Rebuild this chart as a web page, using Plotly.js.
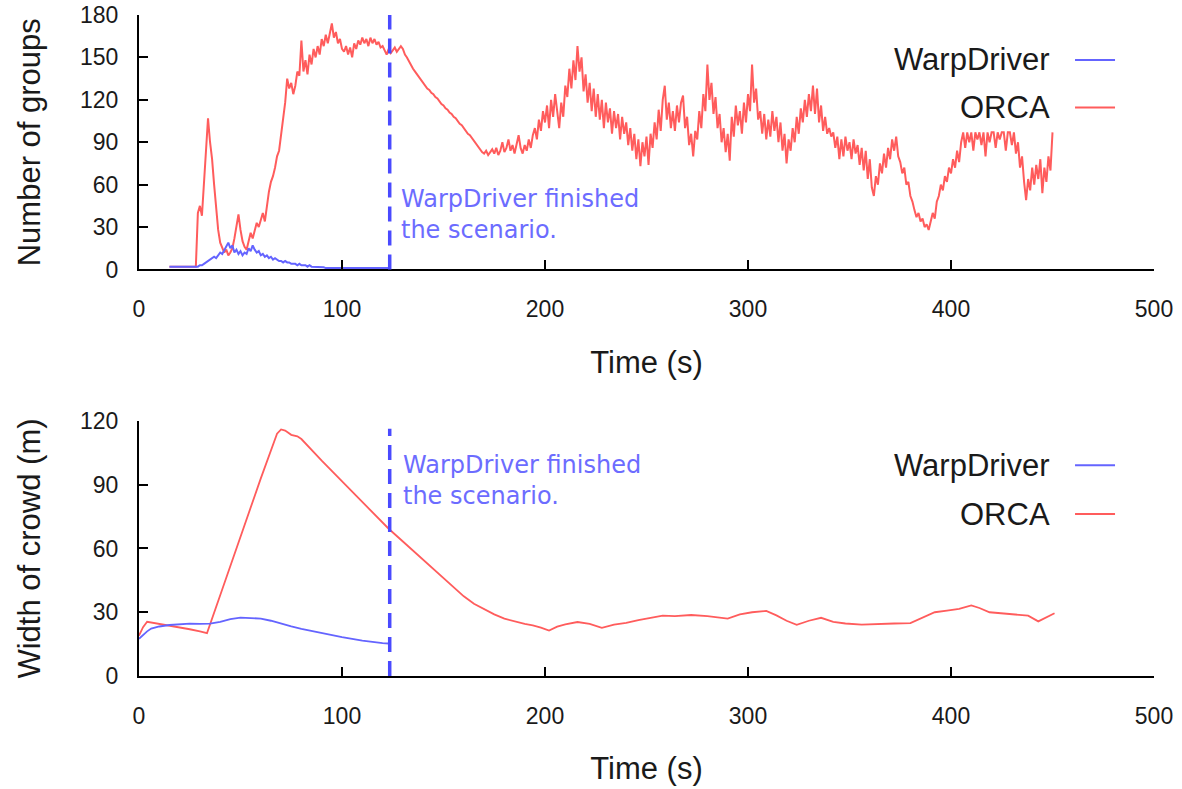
<!DOCTYPE html>
<html>
<head>
<meta charset="utf-8">
<script src="https://cdn.plot.ly/plotly-3.0.1.min.js"></script>
<style>
  html, body { margin: 0; padding: 0; background: #fff; }
  #chart { width: 1182px; height: 789px; }
</style>
</head>
<body>
<div id="chart"></div>
<script>
// ---------- DATA ----------
// Top panel: number of groups, sampled every 1 s starting at t = 15 s
const topStartTime = 15;
const orcaGroups = [
  2,2,2,2,2,
  2,2,2,2,2,2,2,2,2,40,
  45,38,60,80,107,90,78,60,42,28,
  19,15,12,14,10,12,15,22,30,39,
  28,20,16,14,20,26,22,28,33,30,
  36,40,34,46,55,62,66,72,80,84,
  96,106,118,135,128,132,124,130,140,137,
  162,140,148,138,152,145,156,150,158,152,
  163,158,166,160,168,174,164,168,160,163,
  156,154,158,152,157,150,160,156,162,159,
  164,160,163,158,164,160,163,159,161,157,
  158,155,152,156,153,155,157,154,156,158,
  156,152,150,147,145,142,140,138,136,134,
  132,130,128,127,125,124,122,121,119,117,
  116,114,113,111,110,108,107,105,103,102,
  100,98,96,95,93,91,89,87,85,83,
  82,84,81,83,85,82,86,81,84,90,
  83,86,92,84,88,82,90,95,86,82,
  88,84,92,86,95,100,92,106,98,112,
  104,116,100,120,108,124,112,100,118,108,
  130,122,142,128,148,134,158,140,150,126,
  138,118,132,112,128,108,124,106,120,100,
  118,104,114,96,112,100,110,92,108,96,
  104,88,100,84,96,78,92,73,90,80,
  94,74,96,86,104,92,113,98,120,130,
  106,118,100,112,98,116,104,118,123,100,
  108,88,96,80,98,92,112,100,124,112,
  145,120,132,110,122,100,110,90,100,83,
  96,77,108,94,116,102,112,96,118,104,
  124,112,145,118,128,106,112,96,110,92,
  106,94,112,98,108,90,104,84,96,75,
  92,84,100,90,108,96,114,104,120,108,
  124,112,130,110,128,104,116,98,108,96,
  100,94,97,86,94,78,92,80,94,84,
  90,78,92,82,88,74,86,70,84,64,
  78,58,52,66,60,75,68,82,72,86,
  78,92,84,94,80,76,68,72,60,62,
  52,48,42,37,40,34,36,30,32,28,
  34,40,36,48,52,60,56,66,62,72,
  68,78,72,84,76,90,97,86,97,90,
  97,84,97,92,97,88,97,80,97,90,
  97,97,86,97,92,97,97,84,97,97,
  88,97,82,90,72,80,62,49,64,56,
  72,60,74,64,78,54,72,62,80,70,
  97
];
const warpGroups = [
  2,2,2,2,2,
  2,2,2,2,2,2,2,2,2,2,
  3,3,4,5,6,7,8,9,8,10,
  12,11,14,16,19,15,17,12,14,11,
  13,10,12,11,15,13,17,14,12,13,
  10,11,9,10,8,9,7,8,7,6,
  6,5,6,5,5,4,4,4,3,4,
  3,3,3,2,3,2,2,2,2,2,
  1.5,1.5,1,1,1,1,1,1,1,1,
  1,1,1,1,1,1,1,1,1,1,
  1,1,1,1,1,1,1,1,1,1,
  1,1,1,1
];

// Bottom panel: width of crowd (m)
const orcaWidthTime = [0,2,4,6,10,15,20,25,30,33.5,40,50,60,68,70,72,75,78,80,90,100,110,120,123,130,140,150,160,165,170,175,180,185,190,194,198,202,206,210,216,222,228,234,240,246,252,258,264,272,280,290,296,302,309,314,319,324,330,336,342,348,356,364,372,380,386,392,398,404,410,414,419,425,431,438,443,447,451];
const orcaWidth = [19,23,25.5,25.2,24.5,23.7,23,22,21,20.2,38,66,93,114,116,115.5,113.5,112.8,111.5,101.3,91.6,81.9,72.2,69.3,63.3,54.7,46.1,37.5,34,31.5,29,27,25.7,24.5,23.8,22.8,21.4,23.2,24.3,25.4,24.5,22.7,24.2,25,26.3,27.3,28.4,28.2,28.7,28.2,27,29,30,30.6,28.5,26,24.1,26,27.4,25.5,24.7,24.2,24.6,24.7,24.9,27.5,30,30.8,31.6,33.2,32,30,29.5,29,28.4,25.7,27.5,29.5];
const warpWidthTime = [0,2,4,6,10,15,20,25,30,35,40,45,50,55,60,65,70,75,80,90,100,110,115,120,123];
const warpWidth = [17.5,19.5,21,22.3,23.3,24,24.4,24.6,24.5,24.6,25.5,26.8,27.5,27.4,27,26,24.6,23.3,22.2,20.2,18.3,16.6,15.9,15.5,15.3];

const finishTime = 123.5;
const seriesNames = ['WarpDriver', 'ORCA'];
const xTicks = [0, 100, 200, 300, 400, 500];
const yTicksTop = [0, 30, 60, 90, 120, 150, 180];
const yTicksBottom = [0, 30, 60, 90, 120];
const finishLabel = 'WarpDriver finished<br>the scenario.';

// ---------- STYLE ----------
const RED = '#ff5c5c';
const BLUE = '#6464ff';
const DASH = '#4a4aff';
const TXT = '#1a1a1a';
const baseFont = 'Liberation Sans, Arial, Helvetica, sans-serif';

const topTime = orcaGroups.map((_, i) => topStartTime + i);
const warpTopTime = warpGroups.map((_, i) => topStartTime + i);

const traces = [
  { x: topTime, y: orcaGroups, type: 'scatter', mode: 'lines', name: 'ORCA',
    line: { color: RED, width: 2 }, xaxis: 'x', yaxis: 'y', showlegend: false },
  { x: warpTopTime, y: warpGroups, type: 'scatter', mode: 'lines', name: 'WarpDriver',
    line: { color: BLUE, width: 2 }, xaxis: 'x', yaxis: 'y', showlegend: false },
  { x: orcaWidthTime, y: orcaWidth, type: 'scatter', mode: 'lines', name: 'ORCA',
    line: { color: RED, width: 1.8 }, xaxis: 'x2', yaxis: 'y2', showlegend: false },
  { x: warpWidthTime, y: warpWidth, type: 'scatter', mode: 'lines', name: 'WarpDriver',
    line: { color: BLUE, width: 1.8 }, xaxis: 'x2', yaxis: 'y2', showlegend: false }
];

function xAxis(anchor) {
  return {
    anchor: anchor, range: [0, 500], tickvals: xTicks, ticktext: xTicks.map(String),
    showline: true, linecolor: '#000', linewidth: 2, mirror: false,
    ticks: 'inside', ticklen: 9, tickwidth: 2, tickcolor: '#000',
    showgrid: false, zeroline: false, ticklabelstandoff: 18,
    tickfont: { family: baseFont, size: 23, color: TXT },
    title: { text: 'Time (s)', font: { family: baseFont, size: 31, color: TXT }, standoff: 30 }
  };
}
function yAxis(anchor, domain, range, ticks, title) {
  return {
    anchor: anchor, domain: domain, range: range, tickvals: ticks, ticktext: ticks.map(String),
    showline: true, linecolor: '#000', linewidth: 2, mirror: false,
    ticks: 'inside', ticklen: 9, tickwidth: 2, tickcolor: '#000',
    showgrid: false, zeroline: false, ticklabelstandoff: 14,
    tickfont: { family: baseFont, size: 23, color: TXT },
    title: { text: title, font: { family: baseFont, size: 31, color: TXT }, standoff: 30 }
  };
}

// Legend drawn with text on the left and line sample on the right (as in the original)
const legendRows = [
  { name: seriesNames[0], color: BLUE, y: 0.932 },
  { name: seriesNames[1], color: RED, y: 0.860 },
  { name: seriesNames[0], color: BLUE, y: 0.319 },
  { name: seriesNames[1], color: RED, y: 0.245 }
];

const annotations = legendRows.map(r => ({
  xref: 'paper', yref: 'paper', x: 0.8995, y: r.y, xanchor: 'right', yanchor: 'middle',
  text: r.name, showarrow: false, font: { family: baseFont, size: 31, color: TXT }
}));
annotations.push(
  { xref: 'x', yref: 'y', x: 128, y: 39, xanchor: 'left', yanchor: 'middle', align: 'left',
    text: finishLabel, showarrow: false, font: { family: 'DejaVu Sans, sans-serif', size: 24, color: '#6c6cff' } },
  { xref: 'x2', yref: 'y2', x: 129, y: 92, xanchor: 'left', yanchor: 'middle', align: 'left',
    text: finishLabel, showarrow: false, font: { family: 'DejaVu Sans, sans-serif', size: 24, color: '#6c6cff' } }
);

const shapes = legendRows.map(r => ({
  type: 'line', xref: 'paper', yref: 'paper', x0: 0.9222, x1: 0.9616, y0: r.y, y1: r.y,
  line: { color: r.color, width: 2 }
}));
shapes.push(
  { type: 'line', xref: 'x', yref: 'y domain', x0: finishTime, x1: finishTime, y0: 0, y1: 1,
    line: { color: DASH, width: 3.5, dash: '15px,9px' } },
  { type: 'line', xref: 'x2', yref: 'y2 domain', x0: finishTime, x1: finishTime, y0: 0, y1: 0.97,
    line: { color: DASH, width: 3.5, dash: '15px,9px' } }
);

const layout = {
  width: 1182, height: 789,
  margin: { l: 139, r: 28, t: 15, b: 113 },
  paper_bgcolor: '#fff', plot_bgcolor: '#fff',
  showlegend: false,
  xaxis: xAxis('y'),
  yaxis: yAxis('x', [0.615, 1], [0, 180], yTicksTop, 'Number of groups'),
  xaxis2: xAxis('y2'),
  yaxis2: yAxis('x2', [0, 0.3858], [0, 120], yTicksBottom, 'Width of crowd (m)'),
  annotations: annotations,
  shapes: shapes
};

Plotly.newPlot('chart', traces, layout, { displayModeBar: false, staticPlot: true });
</script>
</body>
</html>
